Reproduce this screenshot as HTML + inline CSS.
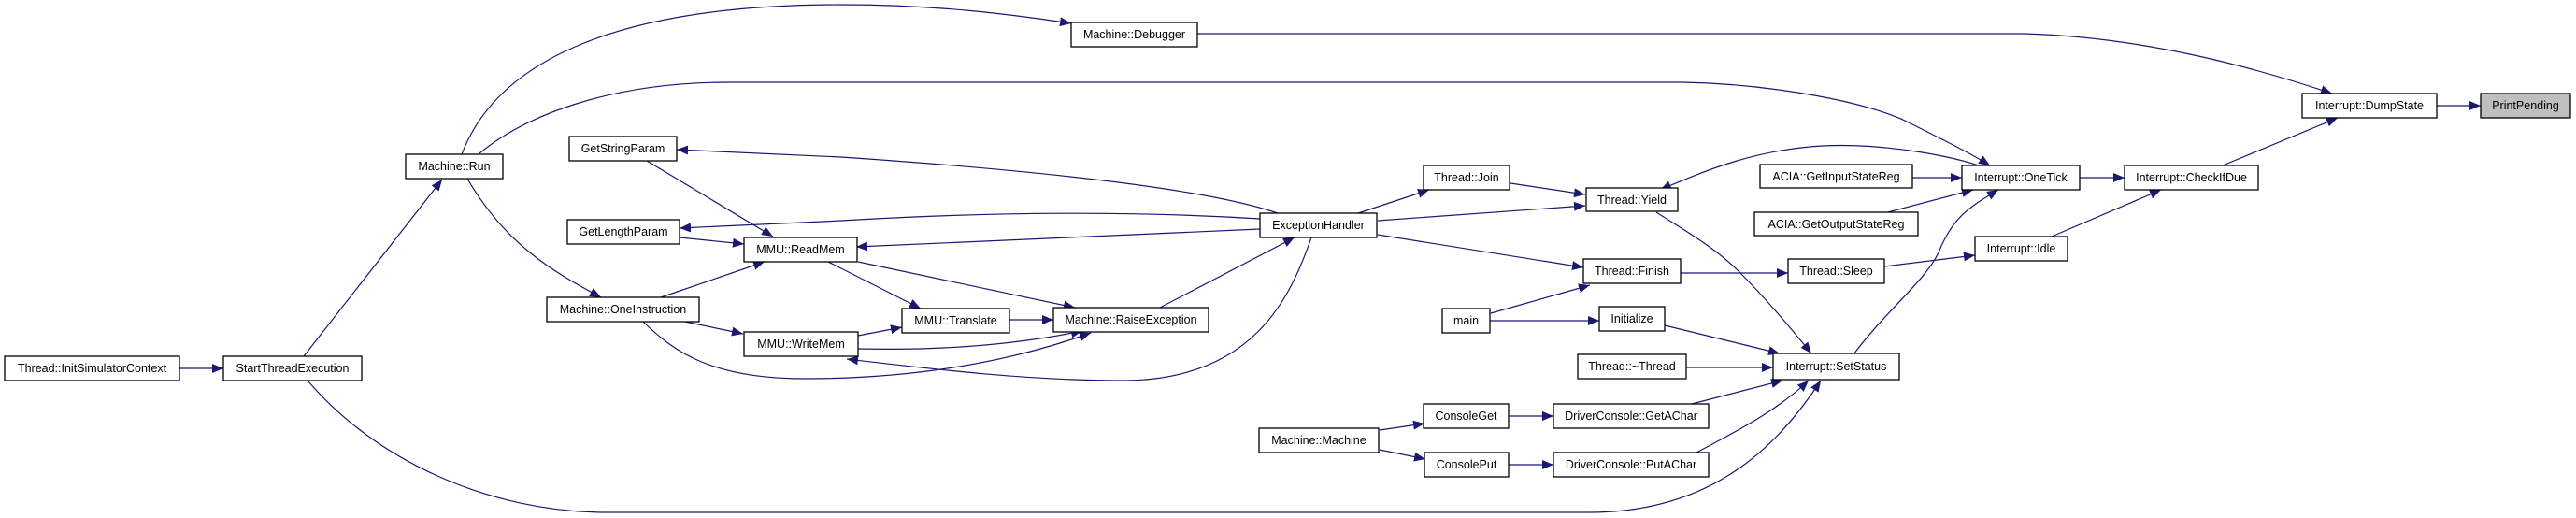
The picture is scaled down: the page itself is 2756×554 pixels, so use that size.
<!DOCTYPE html>
<html><head><meta charset="utf-8"><style>
html,body{margin:0;padding:0;background:#fff;}
svg{display:block;}
text{font-family:"Liberation Sans",sans-serif;font-size:12.5px;fill:#000;}
.e{fill:none;stroke:#191970;stroke-width:1.2;}
</style></head><body>
<svg width="2756" height="554" viewBox="0 0 2756 554" xmlns="http://www.w3.org/2000/svg">
<defs>
<marker id="a" markerUnits="userSpaceOnUse" markerWidth="14" markerHeight="10" refX="12" refY="5" orient="auto">
<path d="M0,0 L12,5 L0,10 Z" fill="#191970"/>
</marker>
</defs>
<g marker-end="url(#a)">
<path class="e" d="M192,394 L239,394"/>
<path class="e" d="M325,381 L473,192"/>
<path class="e" d="M494,165 C530,70 650,5 900,5 C1000,5 1080,15 1146,25"/>
<path class="e" d="M513,164 C560,125 650,88 780,88 L1800,88 C1900,90 2000,110 2040,130 C2080,150 2110,165 2129,177"/>
<path class="e" d="M500,191 C540,260 590,290 643,318"/>
<path class="e" d="M707,318 L818,280"/>
<path class="e" d="M733,344 L795,357"/>
<path class="e" d="M688,344 C720,375 760,405 860,405 C1000,405 1100,380 1167,356"/>
<path class="e" d="M692,172 L827,253"/>
<path class="e" d="M727,254 L796,261"/>
<path class="e" d="M1367,228 C1300,205 1150,185 900,168 L724,160"/>
<path class="e" d="M1348,234 C1250,228 1100,224 900,236 L727,244"/>
<path class="e" d="M1348,245 L916,264"/>
<path class="e" d="M886,280 L985,330"/>
<path class="e" d="M918,280 L1150,329"/>
<path class="e" d="M918,359 L965,350"/>
<path class="e" d="M1080,342 L1127,342"/>
<path class="e" d="M918,373 C1000,375 1080,370 1158,354"/>
<path class="e" d="M1403,254 C1380,320 1340,407 1200,407 C1100,407 1000,395 906,384"/>
<path class="e" d="M1241,329 L1385,254"/>
<path class="e" d="M1453,228 L1529,203"/>
<path class="e" d="M1474,236 L1696,220"/>
<path class="e" d="M1474,251 L1694,286"/>
<path class="e" d="M1616,196 L1696,208"/>
<path class="e" d="M2117,177 C2080,165 2010,153 1950,156 C1880,160 1830,180 1776,203"/>
<path class="e" d="M1772,227 C1800,245 1835,265 1860,290 C1890,320 1915,350 1938,378"/>
<path class="e" d="M1798,292 L1913,292"/>
<path class="e" d="M2016,285 L2113,273"/>
<path class="e" d="M2195,253 L2312,203"/>
<path class="e" d="M2225,190 L2273,190"/>
<path class="e" d="M2046,190 L2099,190"/>
<path class="e" d="M2016,228 L2111,203"/>
<path class="e" d="M1983,379 C2020,330 2060,300 2074,270 C2090,230 2110,220 2138,203"/>
<path class="e" d="M2378,177 L2501,126"/>
<path class="e" d="M1281,36 L2166,36 C2300,40 2420,75 2495,100"/>
<path class="e" d="M2607,113 L2654,113"/>
<path class="e" d="M1595,335 L1701,305"/>
<path class="e" d="M1594,343 L1711,343"/>
<path class="e" d="M1781,348 L1904,378"/>
<path class="e" d="M1804,393 L1897,393"/>
<path class="e" d="M1476,460 L1524,453"/>
<path class="e" d="M1476,481 L1525,491"/>
<path class="e" d="M1614,445 L1662,445"/>
<path class="e" d="M1614,497 L1662,497"/>
<path class="e" d="M1810,432 L1907,407"/>
<path class="e" d="M1815,484 C1860,460 1900,440 1935,407"/>
<path class="e" d="M330,408 C400,490 520,548 650,548 L1700,548 C1830,548 1900,480 1948,407"/>
</g>
<g stroke="#000" stroke-width="1.3">
<g fill="#fff">
<rect x="5" y="381" width="187" height="26"/>
<rect x="239" y="381" width="148" height="26"/>
<rect x="434" y="165" width="104" height="26"/>
<rect x="609" y="146" width="115" height="26"/>
<rect x="607" y="235" width="120" height="26"/>
<rect x="796" y="254" width="121" height="26"/>
<rect x="585" y="318" width="163" height="26"/>
<rect x="796" y="355" width="122" height="26"/>
<rect x="1146" y="24" width="135" height="26"/>
<rect x="965" y="330" width="115" height="26"/>
<rect x="1127" y="329" width="166" height="26"/>
<rect x="1348" y="228" width="125" height="26"/>
<rect x="1523" y="177" width="92" height="26"/>
<rect x="1697" y="201" width="98" height="25"/>
<rect x="1694" y="277" width="104" height="26"/>
<rect x="1543" y="330" width="51" height="26"/>
<rect x="1711" y="328" width="70" height="26"/>
<rect x="1688" y="379" width="116" height="26"/>
<rect x="1523" y="432" width="91" height="26"/>
<rect x="1662" y="432" width="166" height="26"/>
<rect x="1347" y="458" width="128" height="26"/>
<rect x="1524" y="484" width="90" height="26"/>
<rect x="1662" y="484" width="166" height="26"/>
<rect x="2463" y="100" width="144" height="26"/>
<rect x="1883" y="176" width="163" height="25"/>
<rect x="2099" y="177" width="126" height="26"/>
<rect x="2273" y="177" width="143" height="26"/>
<rect x="1877" y="227" width="175" height="25"/>
<rect x="2113" y="253" width="99" height="26"/>
<rect x="1913" y="277" width="103" height="26"/>
<rect x="1897" y="378" width="135" height="28"/>
</g>
<rect x="2654" y="100" width="96" height="26" fill="#bfbfbf"/>
</g>
<g text-anchor="middle">
<text x="98.5" y="398">Thread::InitSimulatorContext</text>
<text x="313" y="398">StartThreadExecution</text>
<text x="486" y="182">Machine::Run</text>
<text x="666.5" y="163">GetStringParam</text>
<text x="667" y="252">GetLengthParam</text>
<text x="856.5" y="271">MMU::ReadMem</text>
<text x="666.5" y="335">Machine::OneInstruction</text>
<text x="857" y="372">MMU::WriteMem</text>
<text x="1213.5" y="41">Machine::Debugger</text>
<text x="1022.5" y="347">MMU::Translate</text>
<text x="1210" y="346">Machine::RaiseException</text>
<text x="1410.5" y="245">ExceptionHandler</text>
<text x="1569" y="194">Thread::Join</text>
<text x="1746" y="218">Thread::Yield</text>
<text x="1746" y="294">Thread::Finish</text>
<text x="1568.5" y="347">main</text>
<text x="1746" y="345">Initialize</text>
<text x="1746" y="396">Thread::~Thread</text>
<text x="1568.5" y="449">ConsoleGet</text>
<text x="1745" y="449">DriverConsole::GetAChar</text>
<text x="1411" y="475">Machine::Machine</text>
<text x="1569" y="501">ConsolePut</text>
<text x="1745" y="501">DriverConsole::PutAChar</text>
<text x="2535" y="117">Interrupt::DumpState</text>
<text x="2702" y="117">PrintPending</text>
<text x="1964.5" y="193">ACIA::GetInputStateReg</text>
<text x="2162" y="194">Interrupt::OneTick</text>
<text x="2344.5" y="194">Interrupt::CheckIfDue</text>
<text x="1964.5" y="244">ACIA::GetOutputStateReg</text>
<text x="2162.5" y="270">Interrupt::Idle</text>
<text x="1964.5" y="294">Thread::Sleep</text>
<text x="1964.5" y="396">Interrupt::SetStatus</text>
</g>
</svg>
</body></html>
